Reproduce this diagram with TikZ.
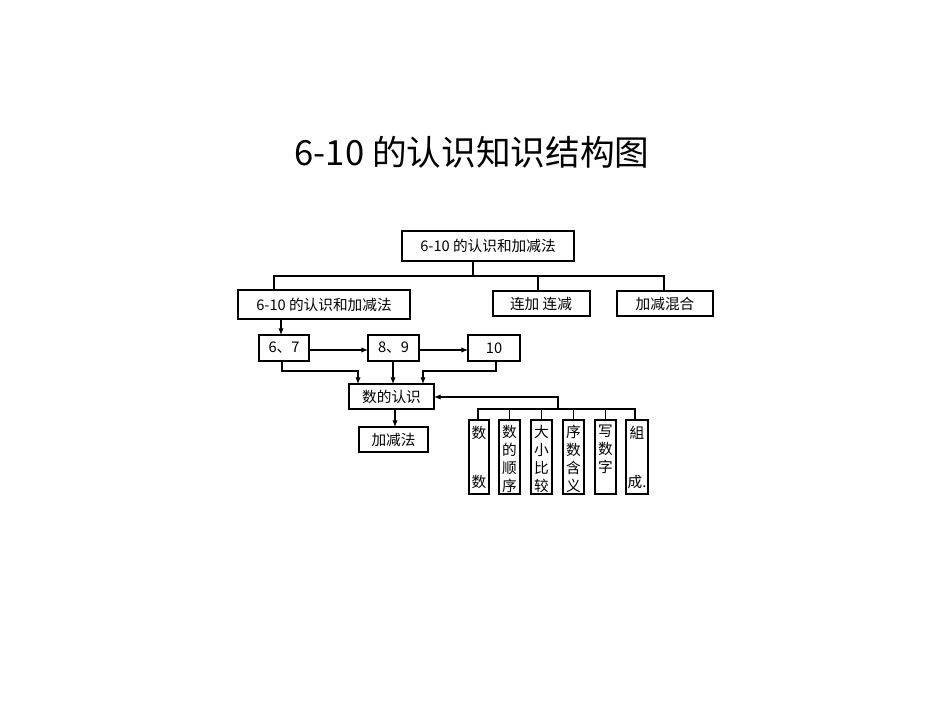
\documentclass[tikz,border=0pt]{standalone}
\usepackage{fontspec}
\setmainfont{Liberation Sans}
\newfontfamily\cjk{Noto Sans CJK SC}
\usetikzlibrary{arrows.meta}
\begin{document}
\begin{tikzpicture}[x=0.75pt,y=-0.75pt,
  bx/.style={draw,thick,inner sep=0pt},
  t/.style={font=\cjk\fontsize{11}{11}\selectfont,inner sep=0pt},
  vt/.style={font=\cjk\fontsize{11}{13.5}\selectfont,inner sep=0pt,align=center},
  ln/.style={thick},
  ar/.style={thick,-{Latex[length=5pt,width=4pt]}}]
\useasboundingbox (0,0) rectangle (950,713);
\node[font=\cjk\fontsize{26}{26}\selectfont] (title) at (472,152) {6-10 的认识知识结构图};
% boxes
\draw[bx] (402,231) rectangle (574,261); \node[t] (top) at (488,246) {6-10 的认识和加减法};
\coordinate (topb) at (473,261);
\draw[bx] (238,290) rectangle (410,319); \node[t] (l1) at (324,304.5) {6-10 的认识和加减法};
\draw[bx] (493,291) rectangle (590,316); \node[t] (l2) at (541,303.5) {连加\ 连减};
\draw[bx] (617,291) rectangle (713,316); \node[t] (l3) at (665,303.5) {加减混合};
\draw[ln] (topb) -- (473,276);
\draw[ln] (274,290) -- (274,276) -- (664,276) -- (664,291);
\draw[ln] (538,276) -- (538,291);
\draw[bx] (259,335) rectangle (309,361); \node[t] (a) at (284,348) {6、7};
\draw[bx] (368,335) rectangle (419,361); \node[t] (b) at (393.5,348) {8、9};
\draw[bx] (468,335) rectangle (520,361); \node[t] (c) at (494,348) {10};
\draw[ar] (281,319) -- (281,335);
\draw[ar] (309,350) -- (368,350);
\draw[ar] (419,350) -- (468,350);
\draw[bx] (349,384) rectangle (434,409); \node[t] (d) at (391.5,396.5) {数的认识};
\draw[ar] (282,361) -- (282,371) -- (358,371) -- (358,384);
\draw[ar] (393,361) -- (393,384);
\draw[ar] (496,361) -- (496,371) -- (423,371) -- (423,384);
\draw[bx] (359,427) rectangle (428,452); \node[t] (e) at (393.5,439.5) {加减法};
\draw[ar] (395,409) -- (395,427);
\draw[ar] (558,409) -- (558,397) -- (434,397);
\draw[ln] (478,420) -- (478,409) -- (635,409) -- (635,420);
\foreach \xa/\xb in {499/520,531/552,563/584,595/616}
  \draw[ln] ({(\xa+\xb)/2},409) -- ({(\xa+\xb)/2},420);
\foreach \xa/\xb in {469/489,499/520,531/552,563/584,595/616,626/648}
  \draw[bx] (\xa,420) rectangle (\xb,494);
\node[t] (v1a) at (479,433) {数}; \node[t] (v1b) at (479,482) {数};
\node[vt,anchor=north] (v2) at (509.5,425) {数\\的\\顺\\序};
\node[vt,anchor=north] (v3) at (541.5,425) {大\\小\\比\\较};
\node[vt,anchor=north] (v4) at (573.5,425) {序\\数\\含\\义};
\node[vt,anchor=north] (v5) at (605.5,425) {写\\数\\字};
\node[t] (v6a) at (637,433) {組}; \node[t] (v6b) at (637,482) {成.};
\end{tikzpicture}
\end{document}
